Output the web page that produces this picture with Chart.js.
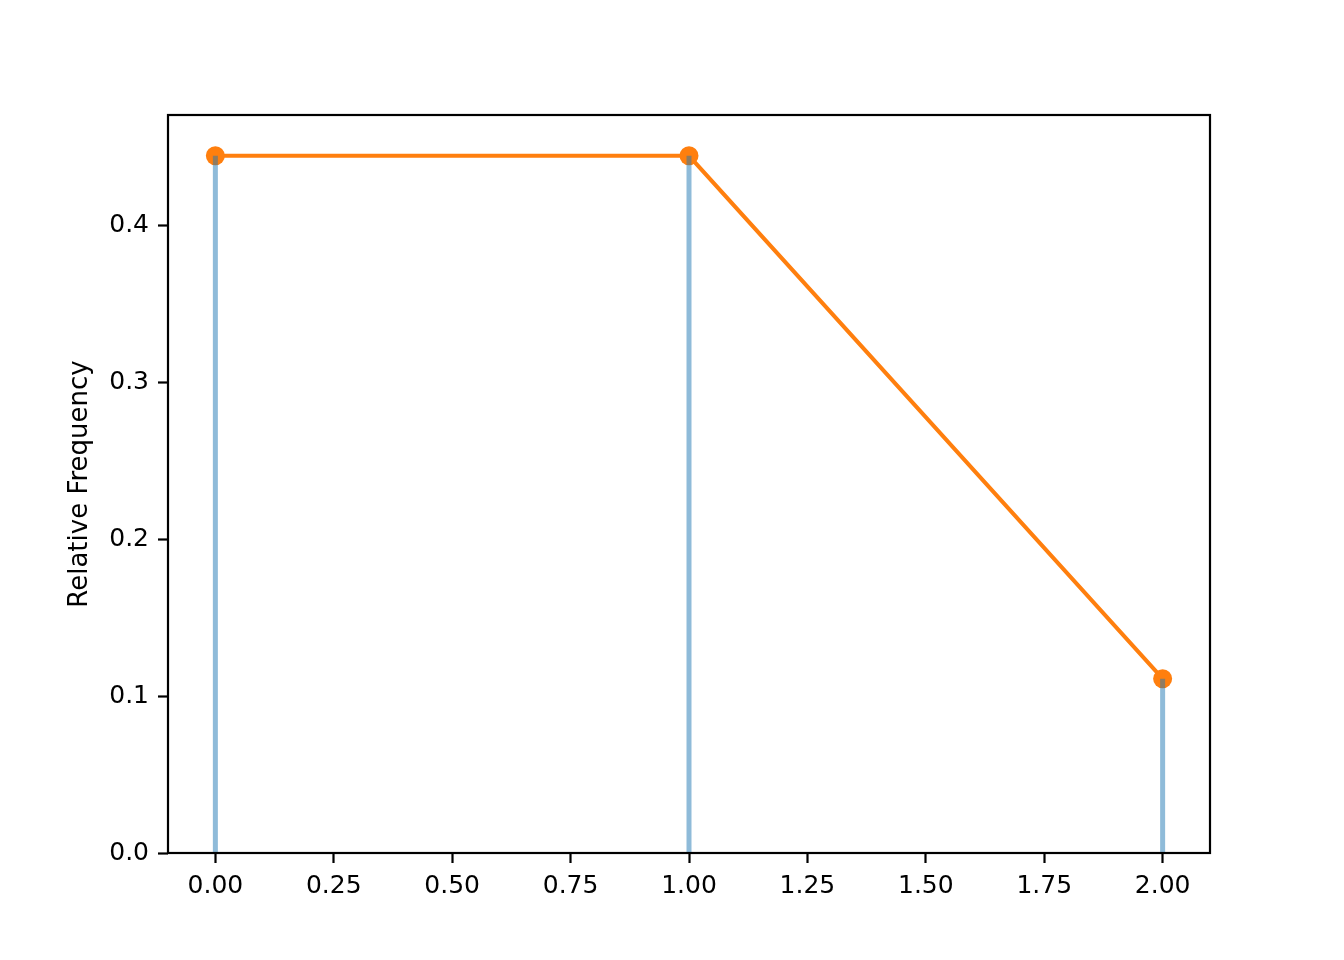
<!DOCTYPE html>
<html>
<head>
    <title>Relative Frequency</title>
    <script src="https://cdn.jsdelivr.net/npm/chart.js"></script>
    <style>
        body { margin: 0; background: #fff; }
    </style>
</head>
<body>
    <div style="width:1344px;height:960px;">
        <canvas id="freqChart"></canvas>
    </div>
    <script>
        const values = [0, 1, 2];
        const relFreq = [0.4444, 0.4444, 0.1111];
        const xTicks = [0, 0.25, 0.5, 0.75, 1, 1.25, 1.5, 1.75, 2];
        const yTicks = [0, 0.1, 0.2, 0.3, 0.4];

        const font = { family: 'DejaVu Sans', size: 25 };

        // one dataset per stem, so the vertical lines come from the scales too
        const stems = values.map((v, i) => ({
            type: 'line',
            data: [{ x: v, y: 0 }, { x: v, y: relFreq[i] }],
            borderColor: 'rgba(31, 119, 180, 0.5)',
            borderWidth: 5,
            borderCapStyle: 'butt',
            pointRadius: 0,
            order: 0,
            clip: false
        }));

        const frame = {
            id: 'frame',
            afterDraw(chart) {
                const a = chart.chartArea;
                const c = chart.ctx;
                c.save();
                c.strokeStyle = '#000';
                c.lineWidth = 2.2;
                c.strokeRect(a.left, a.top, a.right - a.left, a.bottom - a.top);
                c.restore();
            }
        };

        const ctx = document.getElementById('freqChart').getContext('2d');
        new Chart(ctx, {
            type: 'scatter',
            data: {
                datasets: [{
                    type: 'line',
                    data: values.map((v, i) => ({ x: v, y: relFreq[i] })),
                    borderColor: '#ff7f0e',
                    backgroundColor: '#ff7f0e',
                    borderWidth: 4,
                    pointRadius: 9.5,
                    pointBorderWidth: 0,
                    tension: 0,
                    order: 1,
                    clip: false
                }, ...stems]
            },
            options: {
                responsive: true,
                maintainAspectRatio: false,
                animation: false,
                layout: { padding: { left: 0, right: 134, top: 115, bottom: 0 } },
                plugins: { legend: { display: false }, tooltip: { enabled: false } },
                scales: {
                    x: {
                        type: 'linear',
                        min: -0.1,
                        max: 2.1,
                        afterBuildTicks: s => { s.ticks = xTicks.map(v => ({ value: v })); },
                        afterFit: s => { s.height = 107; },
                        grid: { drawOnChartArea: false, drawTicks: true, tickLength: 10, tickWidth: 2.2, tickColor: '#000' },
                        border: { display: false },
                        ticks: {
                            color: '#000',
                            font: font,
                            padding: 8,
                            maxRotation: 0,
                            callback: v => v.toFixed(2)
                        }
                    },
                    y: {
                        min: 0,
                        max: 0.4704,
                        afterBuildTicks: s => { s.ticks = yTicks.map(v => ({ value: v })); },
                        afterFit: s => { s.width = 168; },
                        grid: { drawOnChartArea: false, drawTicks: true, tickLength: 10, tickWidth: 2.2, tickColor: '#000' },
                        border: { display: false },
                        title: {
                            display: true,
                            text: 'Relative Frequency',
                            color: '#000',
                            font: { family: 'DejaVu Sans', size: 26 },
                            padding: { top: 65, bottom: 0 }
                        },
                        ticks: {
                            color: '#000',
                            font: font,
                            padding: 9,
                            callback: v => v.toFixed(1)
                        }
                    }
                }
            },
            plugins: [frame]
        });
    </script>
</body>
</html>
